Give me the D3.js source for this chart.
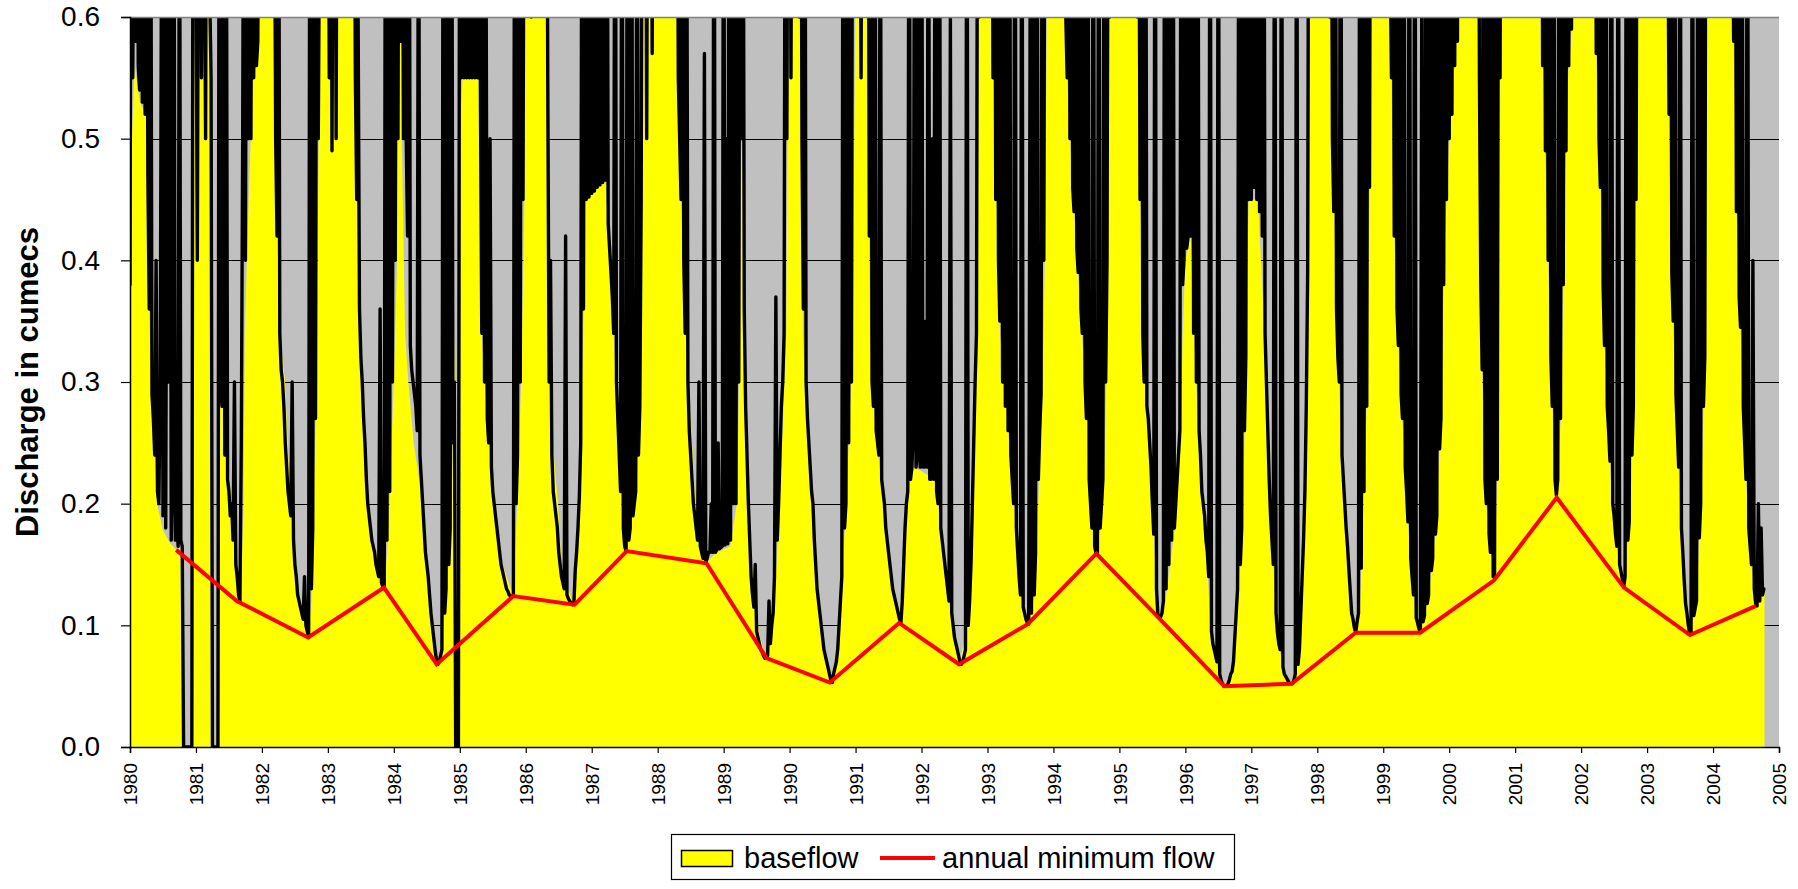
<!DOCTYPE html>
<html>
<head>
<meta charset="utf-8">
<script src="https://cdn.jsdelivr.net/npm/d3@7"></script>
<style>
  body { margin: 0; background: #fff; }
  text { font-family: Arial, "Liberation Sans", sans-serif; }
</style>
</head>
<body>
<svg id="chart"></svg>
<script>
// axis ticks
const yTicks = [0, 0.1, 0.2, 0.3, 0.4, 0.5, 0.6];
const yearTicks = [1980, 1981, 1982, 1983, 1984, 1985, 1986, 1987, 1988, 1989, 1990, 1991, 1992,
  1993, 1994, 1995, 1996, 1997, 1998, 1999, 2000, 2001, 2002, 2003, 2004, 2005];

// baseflow [decimal year, cumecs]; zeros are the data gaps
const baseflow80s = [
  [1980.0,.38],[1980.03,.5],[1980.07,.56],[1980.15,.53],[1980.24,.52],[1980.27,.45],[1980.30,.34],[1980.35,.27],
  [1980.41,.2],[1980.5,.178],[1980.6,.168],[1980.70,.162],[1980.80,.165],[1980.805,0],[1980.94,0],[1980.945,.45],[1980.98,.65],
  [1981.2,.65],[1981.235,.55],[1981.24,0],[1981.34,0],[1981.345,.4],[1981.36,.34],[1981.45,.26],[1981.54,.2],[1981.6,.15],
  [1981.65,.12],[1981.70,.16],[1981.72,.2],[1981.74,.34],[1981.8,.45],[1981.86,.55],[1981.95,.57],
  [1982.0,.65],[1982.15,.65],[1982.2,.5],[1982.27,.34],[1982.35,.30],[1982.43,.2],[1982.48,.17],[1982.55,.125],[1982.70,.09],
  [1982.75,.12],[1982.78,.2],[1982.83,.3],[1982.86,.5],[1982.88,.68],
  [1983.4,.65],[1983.44,.45],[1983.49,.34],[1983.54,.3],[1983.61,.2],[1983.7,.16],[1983.85,.131],[1983.9,.16],[1983.94,.21],
  [1984.0,.3],[1984.05,.4],[1984.08,.6],[1984.1,.62],[1984.12,.5],[1984.17,.34],[1984.22,.3],[1984.3,.25],[1984.44,.2],
  [1984.54,.125],[1984.65,.068],[1984.72,.08],[1984.8,.13],[1984.87,.2],[1984.925,.34],[1984.93,0],[1984.99,0],[1984.995,.5],
  [1985.05,.56],[1985.3,.55],[1985.33,.34],[1985.4,.28],[1985.53,.2],[1985.65,.15],[1985.81,.124],[1985.87,.2],[1985.93,.3],[1985.98,.45],
  [1986.0,.65],[1986.3,.65],[1986.33,.45],[1986.34,.34],[1986.39,.26],[1986.49,.2],[1986.54,.15],[1986.72,.117],[1986.81,.2],
  [1986.87,.34],[1986.9,.45],
  [1987.2,.47],[1987.28,.4],[1987.33,.34],[1987.45,.2],[1987.53,.161],[1987.68,.21],[1987.74,.3],[1987.76,.5],[1987.78,.68],
  [1988.27,.65],[1988.32,.5],[1988.42,.34],[1988.47,.3],[1988.57,.2],[1988.67,.17],[1988.74,.152],[1988.9,.16],
  [1989.1,.165],[1989.2,.2],[1989.25,.34],[1989.27,.5],[1989.3,.45],[1989.31,.34],[1989.33,.27],[1989.39,.2],[1989.45,.125],
  [1989.55,.09],[1989.65,.073],[1989.75,.1],[1989.85,.2],[1989.95,.34],[1989.97,.5]
];
const baseflow90s = [
  [1990.0,.62],[1990.17,.62],[1990.19,.45],[1990.2,.34],[1990.25,.28],[1990.35,.2],[1990.45,.125],[1990.55,.07],[1990.61,.053],
  [1990.7,.07],[1990.75,.1],[1990.86,.2],[1990.96,.34],[1990.98,.5],
  [1991.0,.62],[1991.18,.62],[1991.2,.45],[1991.22,.34],[1991.27,.28],[1991.42,.2],[1991.55,.13],[1991.66,.102],[1991.72,.15],
  [1991.77,.2],[1991.82,.22],[1991.9,.23],
  [1992.2,.22],[1992.25,.2],[1992.33,.16],[1992.40,.125],[1992.57,.068],[1992.7,.1],[1992.75,.15],[1992.8,.25],[1992.84,.34],
  [1992.87,.6],[1992.9,.7],
  [1993.05,.65],[1993.08,.6],[1993.15,.42],[1993.19,.34],[1993.27,.29],[1993.40,.2],[1993.5,.125],[1993.61,.101],[1993.72,.125],
  [1993.83,.29],[1993.87,.4],[1993.9,.6],[1993.92,.65],
  [1994.15,.65],[1994.18,.58],[1994.3,.45],[1994.43,.34],[1994.52,.27],[1994.57,.2],[1994.65,.159],[1994.76,.2],[1994.8,.3],
  [1994.83,.45],[1994.86,.65],
  [1995.25,.65],[1995.3,.5],[1995.36,.34],[1995.45,.26],[1995.5,.2],[1995.58,.107],[1995.62,.107],[1995.7,.12],[1995.84,.18],
  [1995.93,.26],[1995.96,.34],
  [1996.0,.4],[1996.08,.42],[1996.13,.34],[1996.2,.26],[1996.3,.18],[1996.38,.1],[1996.5,.06],[1996.59,.05],[1996.7,.06],
  [1996.8,.12],[1996.88,.2],[1996.92,.34],[1996.96,.45],
  [1997.1,.45],[1997.2,.34],[1997.23,.3],[1997.3,.18],[1997.4,.09],[1997.5,.06],[1997.61,.052],[1997.72,.07],[1997.8,.18],
  [1997.84,.3],[1997.87,.5],[1997.9,.65],
  [1998.18,.65],[1998.25,.45],[1998.3,.34],[1998.36,.26],[1998.44,.18],[1998.52,.11],[1998.58,.094],[1998.65,.12],[1998.70,.2],
  [1998.76,.3],[1998.8,.5],[1998.82,.65],
  [1999.1,.65],[1999.15,.45],[1999.22,.34],[1999.3,.26],[1999.38,.18],[1999.48,.11],[1999.56,.094],[1999.68,.12],[1999.8,.18],
  [1999.88,.28],[1999.92,.4]
];
const baseflow00s = [
  [2000.0,.5],[2000.1,.62],[2000.45,.62],[2000.48,.34],[2000.56,.2],[2000.68,.137],[2000.74,.24],[2000.77,.5],[2000.78,.7],
  [2001.35,.7],[2001.45,.5],[2001.53,.34],[2001.6,.22],[2001.63,.205],[2001.7,.28],[2001.75,.45],[2001.8,.55],[2001.9,.62],
  [2002.2,.62],[2002.3,.45],[2002.35,.34],[2002.45,.22],[2002.55,.16],[2002.65,.131],[2002.75,.2],[2002.82,.34],[2002.85,.6],[2002.87,.65],
  [2003.3,.65],[2003.35,.45],[2003.4,.34],[2003.5,.2],[2003.58,.12],[2003.65,.092],[2003.75,.12],[2003.83,.22],[2003.88,.34],
  [2003.9,.6],[2003.92,.65],
  [2004.3,.62],[2004.35,.45],[2004.42,.34],[2004.5,.22],[2004.58,.15],[2004.65,.116],[2004.78,.13]
];

// discharge, 48 readings per year starting 1 Jan of each year (values above 0.6 run off the chart)
const flowFirstYear = 1980;
const flowPerYear = 48;
const flow1980 = [.38,.9,.55,.75,.58,.9,.56,.54,.8,.53,.7,.52,.9,.47,.36,.8,.29,.27,.24,.4,.21,.2,.3,.7,.19,.9,.18,.6,.3,.9,.17,.22,.75,.17,.2,.165,.8,.17,.165,0,0,0,0,0,0,0,.9,.7];
const flow1981 = [.65,.4,.8,.9,.55,.8,.7,.5,.9,.75,.62,.55,0,0,0,0,0,.9,.3,.28,.7,.24,.8,.22,.21,.19,.2,.17,.3,.15,.14,.125,.12,.25,.5,.9,.4,.8,.5,.9,.5,.9,.55,.7,.56,.58,.9,.62];
const flow1982 = [.9,.8,.62,.9,.7,.85,.65,.9,.62,.8,.5,.42,.9,.34,.31,.3,.28,.25,.23,.21,.2,.19,.3,.17,.15,.14,.125,.12,.115,.11,.105,.14,.1,.095,.09,.9,.13,.18,.9,.27,.9,.5,.7,.75,.9,.8,.9,.7];
const flow1983 = [.9,.55,.9,.49,.8,.9,.5,.9,.7,.85,.9,.75,.9,.8,.7,.9,.75,.9,.65,.8,.55,.45,.6,.36,.32,.3,.27,.25,.22,.2,.19,.18,.17,.165,.16,.15,.145,.14,.36,.135,.132,.131,.9,.17,.8,.21,.9,.3];
const flow1984 = [.9,.4,.9,.5,.9,.58,.9,.5,.9,.5,.42,.9,.33,.31,.3,.29,.28,.26,.8,.24,.22,.2,.18,.16,.15,.14,.125,.11,.1,.09,.08,.072,.068,.07,.075,.08,.9,.11,.13,.8,.15,.18,.9,.25,.3,0,0,0];
const flow1985 = [.9,.55,.9,.55,.9,.55,.9,.55,.9,.55,.9,.55,.9,.55,.9,.54,.34,.9,.3,.7,.27,.25,.5,.23,.21,.2,.19,.18,.17,.16,.15,.145,.14,.135,.13,.128,.125,.124,.124,.124,.9,.2,.24,.9,.3,.9,.45,.9];
const flow1986 = [.9,.75,.9,.8,.6,.9,.7,.9,.62,.9,.8,.9,.7,.9,.75,.9,.55,.3,.4,.24,.21,.2,.19,.18,.16,.15,.14,.135,.13,.42,.125,.122,.12,.118,.117,.117,.145,.16,.18,.206,.25,.9,.36,.9,.45,.9,.452,.9];
const flow1987 = [.455,.9,.457,.9,.46,.9,.462,.9,.464,.9,.466,.9,.43,.41,.39,.37,.34,.9,.3,.27,.24,.21,.9,.18,.165,.161,.9,.17,.18,.9,.19,.2,.21,.9,.24,.28,.45,.9,.8,.9,.5,.9,.75,.9,.57,.9,.8,.9];
const flow1988 = [.9,.8,.9,.7,.9,.85,.9,.75,.9,.8,.9,.7,.9,.62,.9,.55,.5,.45,.9,.4,.34,.8,.3,.26,.24,.22,.2,.19,.18,.17,.3,.165,.16,.155,.57,.152,.155,.16,.16,.2,.16,.9,.16,.162,.25,.163,.164,.165];
const flow1989 = [.9,.166,.5,.167,.9,.17,.9,.2,.7,.2,.9,.3,.9,.5,.9,.36,.28,.24,.2,.17,.14,.125,.115,.15,.095,.09,.085,.08,.078,.075,.073,.073,.075,.12,.085,.1,.11,.14,.37,.17,.2,.24,.28,.3,.34,.9,.5,.9];
const flow1990 = [.9,.55,.9,.8,.9,.7,.9,.6,.9,.5,.36,.9,.3,.27,.25,.23,.21,.2,.17,.15,.13,.12,.11,.1,.09,.08,.075,.07,.065,.06,.055,.053,.06,.065,.07,.08,.1,.12,.14,.9,.18,.2,.9,.25,.9,.3,.9,.8];
const flow1991 = [.9,.7,.9,.8,.55,.9,.62,.9,.75,.9,.42,.9,.3,.28,.9,.26,.25,.24,.8,.22,.21,.2,.18,.17,.16,.15,.14,.13,.125,.12,.115,.11,.105,.102,.12,.15,.18,.2,.21,.9,.22,.23,.26,.8,.23,.24,.9,.23];
const flow1992 = [.9,.23,.23,.35,.23,.9,.22,.22,.5,.22,.9,.21,.2,.9,.18,.17,.16,.15,.14,.13,.12,.6,.11,.1,.09,.085,.08,.075,.07,.068,.07,.075,.08,.9,.1,.12,.15,.2,.25,.3,.34,.9,.6,.9,.8,.9,.75,.9];
const flow1993 = [.9,.8,.7,.9,.55,.9,.45,.9,.4,.35,.9,.3,.9,.28,.8,.26,.9,.24,.22,.2,.9,.18,.16,.14,.125,.9,.115,.11,.105,.102,.101,.6,.11,.9,.125,.16,.9,.22,.26,.29,.9,.4,.9,.7,.9,.8,.9,.9];
const flow1994 = [.9,.8,.9,.7,.9,.8,.9,.75,.9,.6,.55,.9,.5,.9,.46,.44,.9,.41,.39,.9,.36,.34,.9,.3,.27,.9,.22,.2,.18,.9,.165,.159,.16,.9,.18,.2,.22,.9,.3,.4,.9,.6,.9,.8,.9,.85,.9,.9];
const flow1995 = [.9,.8,.9,.7,.9,.75,.9,.8,.9,.7,.9,.8,.9,.6,.9,.45,.9,.34,.3,.9,.28,.27,.25,.23,.2,.175,.9,.13,.108,.107,.107,.11,.12,.9,.13,.9,.15,.8,.17,.9,.18,.2,.22,.24,.26,.9,.38,.4];
const flow1996 = [.9,.41,.42,.9,.42,.9,.34,.9,.3,.9,.26,.24,.21,.2,.19,.17,.16,.14,.9,.095,.085,.08,.075,.07,.9,.06,.055,.052,.05,.05,.05,.052,.055,.06,.062,.07,.09,.11,.13,.9,.15,.18,.9,.26,.32,.9,.45,.9];
const flow1997 = [.45,.9,.46,.9,.45,.9,.44,.9,.42,.9,.34,.3,.26,.22,.19,.17,.15,.9,.11,.094,.085,.08,.9,.066,.06,.058,.056,.054,.052,.052,.052,.055,.06,.9,.068,.08,.11,.14,.17,.21,.28,.39,.9,.7,.9,.8,.9,.9];
const flow1998 = [.9,.8,.9,.75,.9,.85,.9,.7,.9,.6,.9,.5,.44,.9,.36,.32,.3,.9,.24,.22,.2,.18,.165,.146,.128,.11,.105,.098,.094,.103,.11,.9,.147,.9,.21,.9,.28,.9,.46,.9,.8,.9,.75,.9,.85,.9,.8,.9];
const flow1999 = [.9,.7,.9,.8,.9,.65,.55,.9,.42,.9,.36,.33,.9,.29,.27,.9,.23,.21,.185,.9,.155,.14,.125,.9,.106,.102,.097,.094,.6,.103,.108,.9,.118,.125,.9,.145,.155,.9,.175,.19,.9,.245,.27,.9,.38,.9,.45,.9];
const flow2000 = [.5,.9,.52,.9,.56,.9,.58,.9,.7,.9,.8,.9,.75,.9,.8,.9,.7,.9,.85,.9,.7,.9,.55,.38,.31,.9,.22,.2,.9,.175,.16,.9,.14,.14,.9,.22,.9,.55,.9,.8,.9,.85,.9,.9,.8,.9,.9,.85];
const flow2001 = [.9,.85,.9,.9,.8,.9,.9,.85,.9,.9,.8,.9,.9,.85,.9,.9,.75,.9,.64,.9,.56,.9,.49,.9,.4,.9,.32,.28,.9,.22,.207,.22,.9,.27,.9,.38,.9,.49,.9,.56,.9,.59,.9,.8,.9,.62,.9,.8];
const flow2002 = [.9,.8,.9,.7,.9,.85,.9,.75,.9,.65,.9,.57,.9,.5,.46,.9,.38,.33,.9,.28,.26,.235,.9,.2,.19,.175,.165,.9,.15,.144,.138,.132,.14,.9,.17,.185,.9,.24,.28,.9,.45,.9,.8,.9,.85,.9,.9,.85];
const flow2003 = [.9,.9,.8,.9,.9,.75,.9,.9,.8,.9,.9,.85,.9,.8,.9,.7,.52,.9,.39,.35,.9,.29,.26,.23,.9,.18,.16,.137,.118,.11,.1,.093,.095,.9,.108,.114,.12,.9,.172,.2,.9,.28,.32,.9,.65,.9,.8,.9];
const flow2004 = [.9,.8,.9,.9,.85,.9,.7,.9,.9,.75,.9,.8,.9,.9,.7,.58,.9,.44,.9,.37,.345,.9,.28,.25,.22,.9,.18,.165,.15,.4,.13,.118,.116,.2,.12,.18,.125,.13];
const flowYears = [flow1980, flow1981, flow1982, flow1983, flow1984, flow1985, flow1986, flow1987, flow1988,
  flow1989, flow1990, flow1991, flow1992, flow1993, flow1994, flow1995, flow1996, flow1997, flow1998, flow1999,
  flow2000, flow2001, flow2002, flow2003, flow2004];

// annual minimum flow
const minDates = [1980.70, 1981.62, 1982.70, 1983.85, 1984.65, 1985.81, 1986.74, 1987.53, 1988.74, 1989.65, 1990.61,
  1991.66, 1992.57, 1993.61, 1994.65, 1995.6, 1996.59, 1997.61, 1998.58, 1999.56, 2000.68, 2001.63, 2002.65, 2003.65, 2004.65];
const minValues = [0.162, 0.120, 0.090, 0.131, 0.068, 0.124, 0.117, 0.161, 0.151, 0.073, 0.053,
  0.102, 0.068, 0.101, 0.159, 0.106, 0.050, 0.052, 0.094, 0.094, 0.137, 0.205, 0.131, 0.092, 0.116];

const w = 1798, h = 889;
const plotL = 130, plotR = 1779, plotT = 17, plotB = 747;

const svg = d3.select("#chart").attr("width", w).attr("height", h);

const x = d3.scaleLinear().domain([1980, 2005]).range([plotL, plotR]);
const y = d3.scaleLinear().domain([0, 0.6]).range([plotB, plotT]);

svg.append("defs").append("clipPath").attr("id", "plot")
  .append("rect").attr("x", plotL).attr("y", plotT).attr("width", plotR - plotL).attr("height", plotB - plotT);

// plot background
svg.append("rect")
  .attr("x", plotL).attr("y", plotT).attr("width", plotR - plotL).attr("height", plotB - plotT)
  .attr("fill", "#c0c0c0");

// gridlines
svg.append("g").selectAll("line")
  .data(yTicks.filter(d => d > 0 && d < 0.6))
  .enter().append("line")
  .attr("x1", plotL).attr("x2", plotR)
  .attr("y1", d => Math.round(y(d)) + 0.5).attr("y2", d => Math.round(y(d)) + 0.5)
  .attr("stroke", "#000").attr("stroke-width", 1);

const plot = svg.append("g").attr("clip-path", "url(#plot)");

const baseflow = baseflow80s.concat(baseflow90s, baseflow00s);
plot.append("path")
  .datum(baseflow)
  .attr("fill", "#ffff00")
  .attr("d", d3.area().x(d => x(d[0])).y0(y(0)).y1(d => y(d[1])));

// discharge line: drawn as separate segments so that the very sharp spikes stroke cleanly
const flow = flowYears.flatMap((vals, i) => vals.map((v, k) => [flowFirstYear + i + k / flowPerYear, v]));
const seg = d3.line().x(d => x(d[0])).y(d => y(d[1]));
plot.append("path")
  .attr("fill", "none")
  .attr("stroke", "#000")
  .attr("stroke-width", 3.4)
  .attr("stroke-linecap", "round")
  .attr("d", d3.pairs(flow).map(p => seg(p)).join(""));

const minPts = minDates.map((t, i) => [t, minValues[i]]);
plot.append("path")
  .datum(minPts)
  .attr("fill", "none")
  .attr("stroke", "#ff0000")
  .attr("stroke-width", 4)
  .attr("d", d3.line().x(d => x(d[0])).y(d => y(d[1])));

// top edge of plot
svg.append("line")
  .attr("x1", plotL).attr("x2", plotR).attr("y1", plotT + 0.5).attr("y2", plotT + 0.5)
  .attr("stroke", "#808080").attr("stroke-width", 1.5);

// axes
const yAxis = d3.axisLeft(y).tickValues(yTicks).tickFormat(d3.format(".1f")).tickSize(9).tickPadding(21);
const gy = svg.append("g").attr("transform", `translate(${plotL},0)`).call(yAxis);
gy.select(".domain").attr("stroke", "#000").attr("stroke-width", 1.5);
gy.selectAll(".tick line").attr("stroke", "#000").attr("stroke-width", 1.2);
gy.selectAll(".tick text").attr("font-size", 28).attr("fill", "#000")
  .style("font-family", "Arial, 'Liberation Sans', sans-serif");

const xAxis = d3.axisBottom(x).tickValues(yearTicks).tickFormat(d3.format("d")).tickSize(6);
const gx = svg.append("g").attr("transform", `translate(0,${plotB})`).call(xAxis);
gx.select(".domain").attr("stroke", "#000").attr("stroke-width", 1.5);
gx.selectAll(".tick line").attr("stroke", "#000").attr("stroke-width", 1.2);
gx.selectAll(".tick text")
  .attr("font-size", 19).attr("fill", "#000")
  .style("font-family", "Arial, 'Liberation Sans', sans-serif")
  .attr("transform", "rotate(-90)")
  .attr("x", -16).attr("y", 0).attr("dy", "0.35em")
  .attr("text-anchor", "end");

// y title
svg.append("text")
  .attr("transform", `translate(38,${(plotT + plotB) / 2}) rotate(-90)`)
  .attr("text-anchor", "middle")
  .attr("font-size", 31).attr("font-weight", "bold")
  .text("Discharge in cumecs");

// legend
const lg = svg.append("g");
lg.append("rect").attr("x", 671.5).attr("y", 834.5).attr("width", 563).attr("height", 45)
  .attr("fill", "#fff").attr("stroke", "#000").attr("stroke-width", 1.2);
lg.append("rect").attr("x", 681.5).attr("y", 850.5).attr("width", 51).attr("height", 16)
  .attr("fill", "#ffff00").attr("stroke", "#000").attr("stroke-width", 1.5);
lg.append("text").attr("x", 744).attr("y", 868).attr("font-size", 29).text("baseflow");
lg.append("line").attr("x1", 880).attr("x2", 935).attr("y1", 858).attr("y2", 858)
  .attr("stroke", "#ff0000").attr("stroke-width", 4);
lg.append("text").attr("x", 942).attr("y", 868).attr("font-size", 29).text("annual minimum flow");
</script>
</body>
</html>
